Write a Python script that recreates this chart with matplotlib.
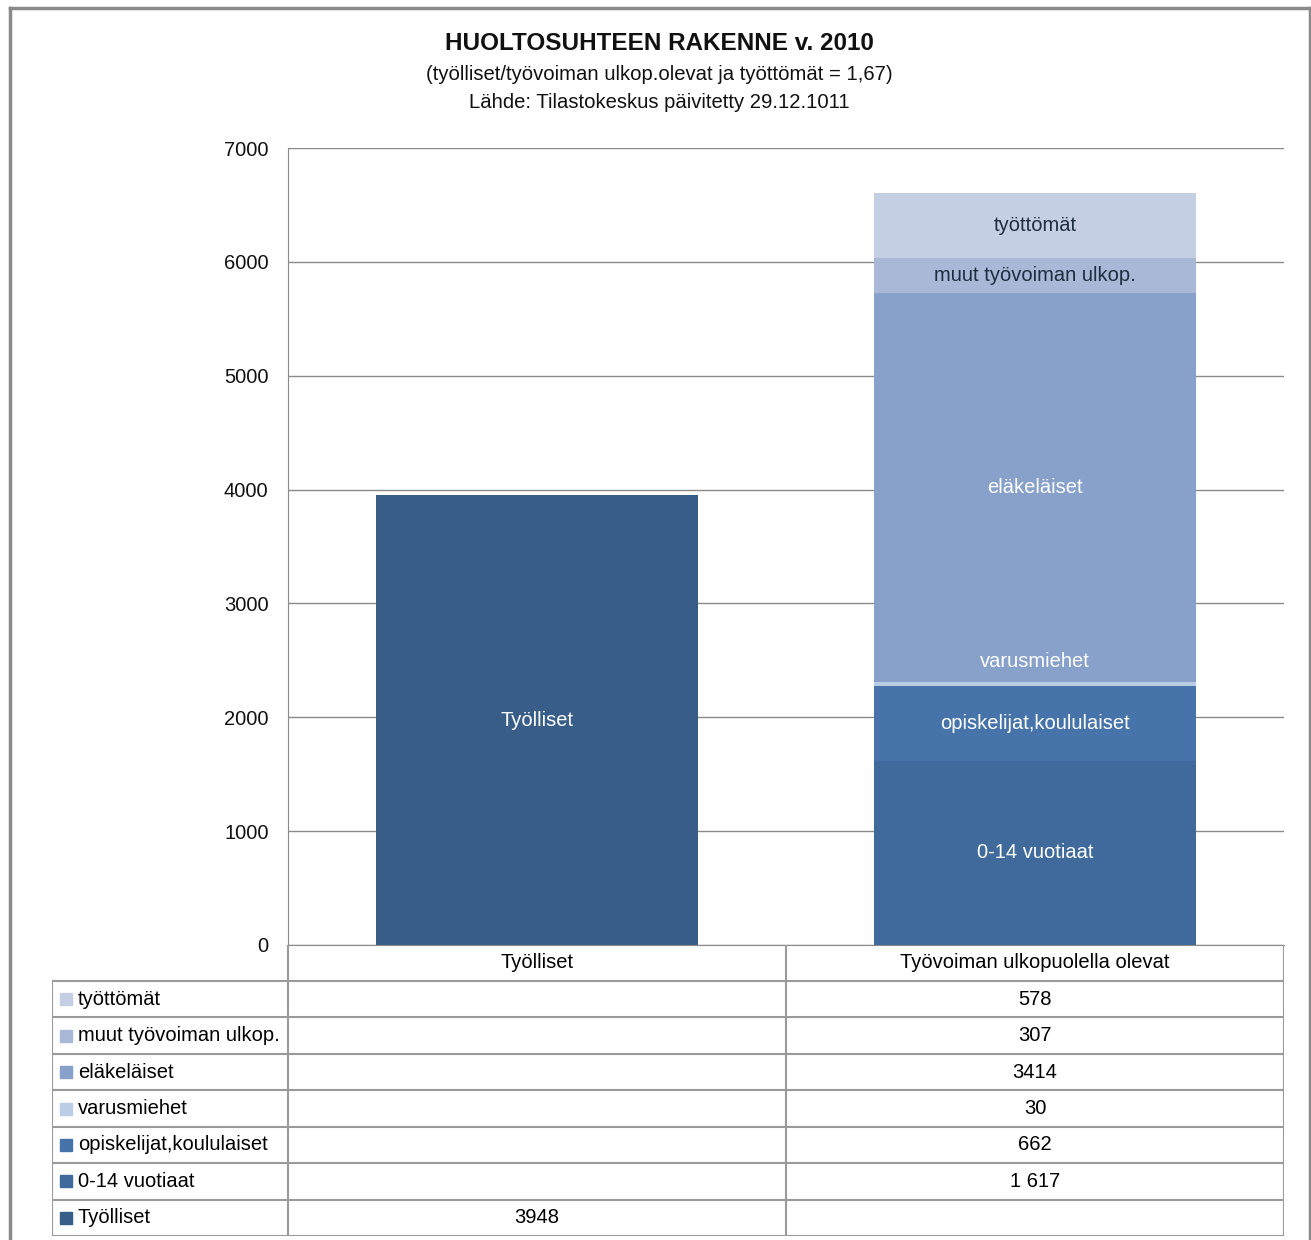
import matplotlib
matplotlib.use("Agg")
import matplotlib.pyplot as plt
from matplotlib.patches import Rectangle
from matplotlib.lines import Line2D

plt.rcParams['font.family'] = ['Liberation Sans', 'DejaVu Sans']

# ---- data ----
categories = ["Työlliset", "Työvoiman ulkopuolella olevat"]
tyolliset = 3948
segments = ["0-14 vuotiaat", "opiskelijat,koululaiset", "varusmiehet",
            "eläkeläiset", "muut työvoiman ulkop.", "työttömät"]
segment_values = [1617, 662, 30, 3414, 307, 578]
segment_colors = ["#3F6A9B", "#4674AA", "#B9CDE5", "#87A1CA", "#A9B8D6", "#C5CFE3"]
segment_text = ["white", "white", "white", "white", "#1F2D40", "#1F2D40"]
label_shift = [0, 0, 200, 0, 0, 0]          # varusmiehet label sits above its thin band
tyolliset_color = "#375D88"
table_labels = ["1 617", "662", "30", "3414", "307", "578"]
yticks = [0, 1000, 2000, 3000, 4000, 5000, 6000, 7000]

FS = 14.5
W, H = 1311, 1240
fig = plt.figure(figsize=(W / 100, H / 100), dpi=100)

def fx(px): return px / W
def fy(py): return 1 - py / H

# outer frame
for xs, ys in [([10, 10], [1240, 8]), ([10, 1310], [8, 8]), ([1310, 1310], [8, 1240])]:
    fig.add_artist(Line2D([fx(x) for x in xs], [fy(y) for y in ys], color="#8A8A8A", lw=2.5))

fig.text(fx(659), fy(44), "HUOLTOSUHTEEN RAKENNE v. 2010", ha="center", va="center",
         fontsize=17.5, fontweight="bold", color="#111111")
fig.text(fx(659), fy(75), "(työlliset/työvoiman ulkop.olevat ja työttömät = 1,67)",
         ha="center", va="center", fontsize=14.6, color="#111111")
fig.text(fx(659), fy(103), "Lähde: Tilastokeskus päivitetty 29.12.1011",
         ha="center", va="center", fontsize=14.6, color="#111111")

# ---- chart ----
ax = fig.add_axes([fx(288), fy(945), (1284 - 288) / W, (945 - 148) / H])
ax.set_xlim(-0.5, 1.5)
ax.set_ylim(0, 7000)
ax.set_yticks(yticks)
ax.set_yticklabels([str(t) for t in yticks], fontsize=FS, color="#111111")
ax.tick_params(axis="y", length=0, pad=14)
ax.set_xticks([])
ax.grid(axis="y", color="#8A8A8A", lw=1)
ax.set_axisbelow(True)
for s in ["top", "right"]:
    ax.spines[s].set_visible(False)
ax.spines["left"].set_color("#8A8A8A")
ax.spines["bottom"].set_color("#8A8A8A")

bw = 0.645
ax.bar(0, tyolliset, width=bw, color=tyolliset_color)
ax.text(0, tyolliset / 2, categories[0], ha="center", va="center", color="white", fontsize=FS)

bottom = 0
for name, v, c, tc, sh in zip(segments, segment_values, segment_colors, segment_text, label_shift):
    ax.bar(1, v, width=bw, bottom=bottom, color=c)
    ax.text(1, bottom + v / 2 + sh, name, ha="center", va="center", color=tc, fontsize=FS)
    bottom += v

# ---- data table ----
tax = fig.add_axes([fx(52), fy(1236), (1284 - 52) / W, (1236 - 945) / H])
tax.set_xlim(52, 1284)
tax.set_ylim(1236, 945)
tax.axis("off")
lc = "#9A9A9A"
x0, x1, x2, x3 = 52, 288, 786, 1284
y_head = 981
row_h = (1236 - y_head) / 7
for xx in (x1, x2, x3):
    tax.plot([xx, xx], [945, 1236], color=lc, lw=1.5)
tax.plot([x0, x0], [y_head, 1236], color=lc, lw=1.5)
for i in range(8):
    yy = y_head + i * row_h
    tax.plot([x0, x3], [yy, yy], color=lc, lw=1.5)
tax.text((x1 + x2) / 2, (945 + y_head) / 2, categories[0], ha="center", va="center", fontsize=FS)
tax.text((x2 + x3) / 2, (945 + y_head) / 2, categories[1], ha="center", va="center", fontsize=FS)

rows = list(zip(segments, segment_colors, table_labels))[::-1]
for i, (name, c, lab) in enumerate(rows):
    yc = y_head + (i + 0.5) * row_h
    tax.add_patch(Rectangle((60, yc - 6), 12, 12, color=c))
    tax.text(78, yc, name, ha="left", va="center", fontsize=FS)
    tax.text((x2 + x3) / 2, yc, lab, ha="center", va="center", fontsize=FS)
yc = y_head + 6.5 * row_h
tax.add_patch(Rectangle((60, yc - 6), 12, 12, color=tyolliset_color))
tax.text(78, yc, categories[0], ha="left", va="center", fontsize=FS)
tax.text((x1 + x2) / 2, yc, str(tyolliset), ha="center", va="center", fontsize=FS)

fig.savefig("out.png", dpi=100)
